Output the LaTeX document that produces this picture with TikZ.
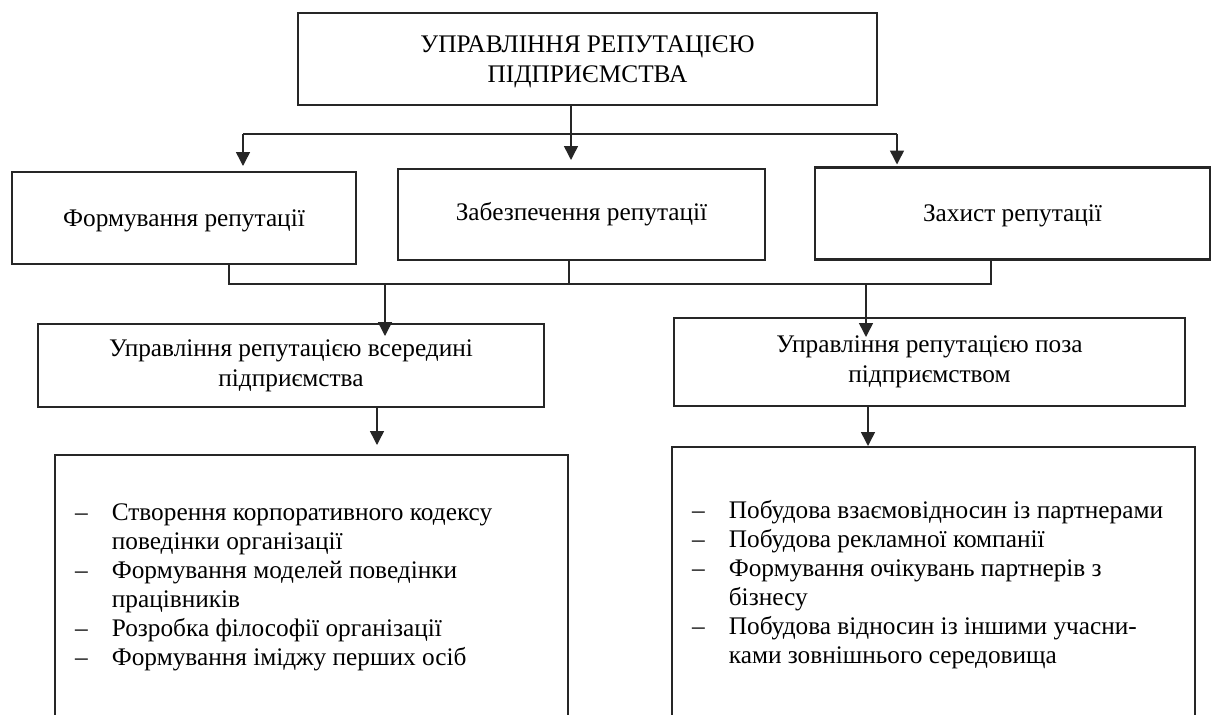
\documentclass[tikz,border=0pt]{standalone}
\usepackage{fontspec}
\setmainfont{Liberation Serif}
\usetikzlibrary{arrows.meta}
\begin{document}
\begin{tikzpicture}[x=1pt,y=-1pt,
  box/.style={draw=black!85,line width=2.2pt,inner sep=0pt,outer sep=0pt,align=center,font=\fontsize{25.3}{30}\selectfont},
  lowtext/.style={text depth=0pt},
  conn/.style={draw=black!85,line width=1.5pt},
  arr/.style={conn,-{Triangle[length=14pt,width=14pt]}},
  listtxt/.style={inner sep=0pt,anchor=west,font=\fontsize{25.3}{29}\selectfont}]
\useasboundingbox (0,0) rectangle (1211,715);
\clip (0,0) rectangle (1211,715);
\fill[white] (0,0) rectangle (1211,715);

% boxes
\node[box,minimum width=579pt,minimum height=92pt] (top) at (587.5,59) {\rule{0pt}{23pt}УПРАВЛІННЯ РЕПУТАЦІЄЮ\\ПІДПРИЄМСТВА};
\node[box,lowtext,minimum width=344pt,minimum height=92pt] (b1) at (184,218) {Формування репутації};
\node[box,minimum width=367pt,minimum height=91pt] (b2) at (581.5,214.5) {Забезпечення репутації};
\node[box,lowtext,minimum width=395pt,minimum height=92pt] (b3) at (1012.5,213.5) {Захист репутації};
\node[box,minimum width=506pt,minimum height=83pt] (l1) at (291,365.5) {Управління репутацією всередині\\підприємства};
\node[box,minimum width=511pt,minimum height=88pt] (r1) at (929.5,362) {Управління репутацією поза\\підприємством};
\node[box,minimum width=513pt,minimum height=275pt] (l2) at (311.5,592.5) {};
\node[box,minimum width=523pt,minimum height=283pt] (r2) at (933.5,588.5) {};

% lists
\node[listtxt] (llist) at (75,587.5) {\begin{tabular}{@{}l@{\hspace{24pt}}l@{}}
–&Створення корпоративного кодексу\\
&поведінки організації\\
–&Формування моделей поведінки\\
&працівників\\
–&Розробка філософії організації\\
–&Формування іміджу перших осіб
\end{tabular}};
\node[listtxt] (rlist) at (692,585.5) {\begin{tabular}{@{}l@{\hspace{24pt}}l@{}}
–&Побудова взаємовідносин із партнерами\\
–&Побудова рекламної компанії\\
–&Формування очікувань партнерів з\\
&бізнесу\\
–&Побудова відносин із іншими учасни-\\
&ками зовнішнього середовища
\end{tabular}};

% upper connectors
\coordinate (ja) at (243,134);
\coordinate (jb) at (571,134);
\coordinate (jc) at (897,134);
\draw[conn] (ja) -- (jc);
\draw[arr,shorten >=9pt] (top.south -| jb) -- (b2.north -| jb);
\draw[arr,shorten >=6pt] (ja) -- (b1.north -| ja);
\draw[arr,shorten >=3pt] (jc) -- (b3.north -| jc);

% middle connectors
\coordinate (k1) at (229,284);
\coordinate (k2) at (569,284);
\coordinate (k3) at (991,284);
\coordinate (m1) at (385,284);
\coordinate (m2) at (866,284);
\draw[conn] (b1.south -| k1) -- (k1) -- (k3) -- (b3.south -| k3);
\draw[conn] (b2.south -| k2) -- (k2);
\draw[arr,shorten >=-12pt] (m1) -- (l1.north -| m1);
\draw[arr,shorten >=-19pt] (m2) -- (r1.north -| m2);

% lower connectors
\coordinate (n1) at (377,0);
\coordinate (n2) at (868,0);
\draw[arr,shorten >=10pt] (l1.south -| n1) -- (l2.north -| n1);
\draw[arr,shorten >=1pt] (r1.south -| n2) -- (r2.north -| n2);
\end{tikzpicture}
\end{document}
